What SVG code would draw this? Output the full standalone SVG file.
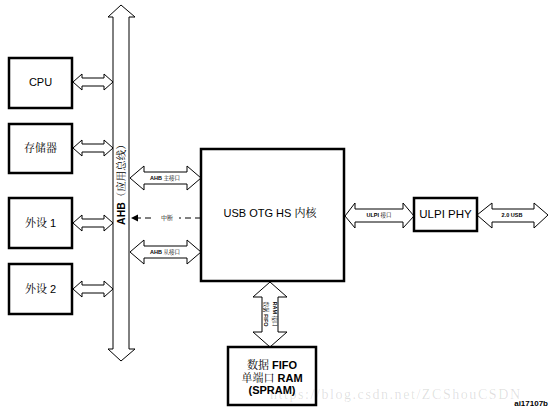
<svg xmlns="http://www.w3.org/2000/svg" width="550" height="413" viewBox="0 0 550 413">
<style>
.box{fill:#fff;stroke:#000;stroke-width:2.5}
.arr{fill:#fff;stroke:#000;stroke-width:1}
.t{font-family:"Liberation Sans","Noto Sans CJK SC",sans-serif;fill:#000;text-anchor:middle;dominant-baseline:central}
.cn{font-family:"Liberation Serif","Noto Serif CJK SC","Noto Sans CJK SC",serif}
.s{font-size:5.5px;font-weight:bold}
</style>
<rect width="550" height="413" fill="#fff"/>
<g id="connectors">
<polygon class="arr" points="121,5 135,17 129,17 129,349 135,349 121,361 108,349 113,349 113,17 108,17"/>
<polygon class="arr" points="73,82 82,74 82,78 104,78 104,74 113,82 104,90 104,86 82,86 82,90"/>
<polygon class="arr" points="73,148 82,140 82,144 104,144 104,140 113,148 104,156 104,152 82,152 82,156"/>
<polygon class="arr" points="73,223 82,215 82,219 104,219 104,215 113,223 104,231 104,227 82,227 82,231"/>
<polygon class="arr" points="73,289 82,281 82,285 104,285 104,281 113,289 104,297 104,293 82,293 82,297"/>
<polygon class="arr" points="130,178 144,166 144,172 187,172 187,166 201,178 187,190 187,184 144,184 144,190"/>
<polygon class="arr" points="130,252 144,240 144,246 187,246 187,240 201,252 187,264 187,258 144,258 144,264"/>
<line x1="201" y1="218" x2="137" y2="218" stroke="#000" stroke-width="1" stroke-dasharray="6,4"/>
<polygon points="131,218 138,214.5 138,221.5" fill="#000"/>
<polygon class="arr" points="345,216 355,203 355,209 403,209 403,203 414,216 403,228 403,222 355,222 355,228"/>
<polygon class="arr" points="477,215 492,203 492,209 534,209 534,203 548,215 534,228 534,222 492,222 492,228"/>
<polygon class="arr" points="270,282 287,297 278,297 278,332 287,332 270,347 253,332 262,332 262,297 253,297"/>
</g>
<g id="bus-label">
<text class="t" transform="translate(121,182) rotate(-90)" font-size="10.5" font-weight="bold">AHB<tspan class="cn" font-weight="normal">（应用总线）</tspan></text>
</g>
<g id="cpu"><rect class="box" x="9" y="58" width="63" height="50"/><text class="t" x="40.5" y="82" font-size="11">CPU</text></g>
<g id="storage"><rect class="box" x="9" y="124" width="63" height="49"/><text class="t cn" x="40.5" y="148" font-size="11">存储器</text></g>
<g id="periph1"><rect class="box" x="9" y="198" width="63" height="50"/><text class="t" x="40.5" y="223" font-size="11"><tspan class="cn">外设</tspan> 1</text></g>
<g id="periph2"><rect class="box" x="9" y="264" width="63" height="50"/><text class="t" x="40.5" y="289" font-size="11"><tspan class="cn">外设</tspan> 2</text></g>
<g id="core"><rect class="box" x="201" y="149" width="143" height="132"/><text class="t" x="270" y="213" font-size="11">USB OTG HS <tspan class="cn">内核</tspan></text></g>
<g id="ulpi-phy"><rect class="box" x="414" y="198" width="63" height="33"/><text class="t" x="445.5" y="214" font-size="11.5">ULPI PHY</text></g>
<g id="spram"><rect class="box" x="228" y="347" width="88" height="58"/>
<text class="t" x="272" y="365" font-size="11" font-weight="bold"><tspan class="cn" font-weight="normal">数据</tspan> FIFO</text>
<text class="t" x="272" y="378" font-size="11" font-weight="bold"><tspan class="cn" font-weight="normal">单端口</tspan> RAM</text>
<text class="t" x="272" y="390" font-size="11" font-weight="bold">(SPRAM)</text></g>
<g id="labels">
<text class="t s" x="165" y="178">AHB <tspan class="cn" font-weight="normal">主接口</tspan></text>
<text class="t s" x="165" y="252">AHB <tspan class="cn" font-weight="normal">从接口</tspan></text>
<rect x="155" y="212" width="24" height="12" fill="#fff"/>
<text class="t cn" x="167" y="218" font-size="6">中断</text>
<text class="t s" x="379" y="215">ULPI <tspan class="cn" font-weight="normal">接口</tspan></text>
<text class="t s" x="512" y="215">2.0 USB</text>
<text class="t s" transform="translate(266,314) rotate(90)"><tspan class="cn" font-weight="normal">数据</tspan> FIFO</text>
<text class="t s" transform="translate(275,314) rotate(90)">RAM <tspan class="cn" font-weight="normal">接口</tspan></text>
<text x="548" y="406" font-family="Liberation Sans,sans-serif" font-size="8" font-weight="bold" text-anchor="end">ai17107b</text>
<text x="270" y="399" font-family="Liberation Serif,serif" font-size="14" fill="#000" fill-opacity="0.13" textLength="250" lengthAdjust="spacing">https://blog.csdn.net/ZCShouCSDN</text>
</g>
</svg>
